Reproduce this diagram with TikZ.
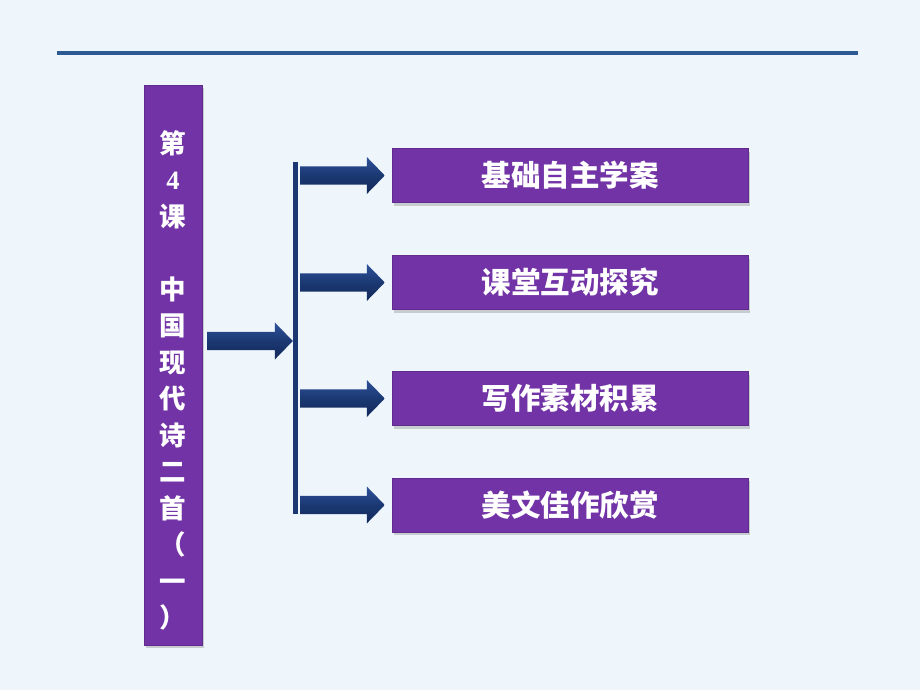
\documentclass[tikz,border=0pt]{standalone}
\usepackage{fontspec}
\newfontfamily\cjk{Noto Sans CJK SC}
\newfontfamily\lserif{Liberation Serif}
\usetikzlibrary{calc,shadows}
\definecolor{bgc}{HTML}{EEF6FC}
\definecolor{topline}{HTML}{2E5A94}
\definecolor{purp}{HTML}{7233A6}
\definecolor{navy}{HTML}{1B3872}
\definecolor{navylt}{HTML}{2D5199}
\definecolor{navydk}{HTML}{13295A}
\tikzset{
  pbox/.style={draw=purp!85!black, line width=0.4pt, fill=purp, inner sep=0pt,
    drop shadow={shadow xshift=2pt, shadow yshift=-3pt, opacity=0.35}},
  btxt/.style={text=white, font=\cjk\bfseries\fontsize{29.5}{31}\selectfont},
  ltxt/.style={text=white, align=center, inner sep=0pt,
    font=\cjk\bfseries\fontsize{26.5}{36.5}\selectfont},
  arrowshade/.style={top color=navylt, bottom color=navydk, middle color=navy},
}
% block arrow from #1 to #2 (horizontal)
\newcommand{\blockarr}[2]{%
  \shade[arrowshade] ($(#1)+(0,-9.2)$) -- ($(#2)+(-18,-9.2)$) -- ($(#2)+(-18,-18.5)$)
    -- (#2) -- ($(#2)+(-18,18.5)$) -- ($(#2)+(-18,9.2)$) -- ($(#1)+(0,9.2)$) -- cycle;}
\begin{document}
\begin{tikzpicture}[x=1pt,y=-1pt]
  \useasboundingbox[fill=bgc] (0,0) rectangle (920,690);
  % top line
  \coordinate (tl) at (57,53);
  \coordinate (tr) at (858,53);
  \draw[topline, line width=4pt] (tl) -- (tr);
  % left vertical box
  \node[pbox, minimum width=58pt, minimum height=560pt] (left) at (173,365) {};
  \node[ltxt, anchor=north] (ltext) at (173,130)
    {第\\{\lserif\bfseries 4}\\课\\[36.5pt]中\\国\\现\\代\\诗\\二\\首\\（\\一\\）};
  % right boxes
  \node[pbox, minimum width=356pt, minimum height=54pt] (b1) at (570,175.5) {};
  \node[btxt] (t1) at (b1) {基础自主学案};
  \node[pbox, minimum width=356pt, minimum height=54pt] (b2) at (570,282.5) {};
  \node[btxt] (t2) at (b2) {课堂互动探究};
  \node[pbox, minimum width=356pt, minimum height=54pt] (b3) at (570,398.5) {};
  \node[btxt] (t3) at (b3) {写作素材积累};
  \node[pbox, minimum width=356pt, minimum height=54pt] (b4) at (570,505) {};
  \node[btxt] (t4) at (b4) {美文佳作欣赏};
  % vertical bar
  \node[fill=navy, inner sep=0pt, minimum width=5pt, minimum height=352pt] (bar) at (295.5,338) {};
  % left arrow
  \coordinate (la1) at ($(left.east |- 0,341)+(5,0)$);
  \coordinate (la2) at ($(bar.west |- 0,341)+(0,0)$);
  \blockarr{la1}{la2}
  % right arrows
  \foreach \i in {1,2,3,4}{
    \coordinate (s\i) at ($(bar.east |- b\i.west)+(2,0)$);
    \coordinate (e\i) at ($(b\i.west)+(-7,0)$);
    \blockarr{s\i}{e\i}
  }
\end{tikzpicture}
\end{document}
